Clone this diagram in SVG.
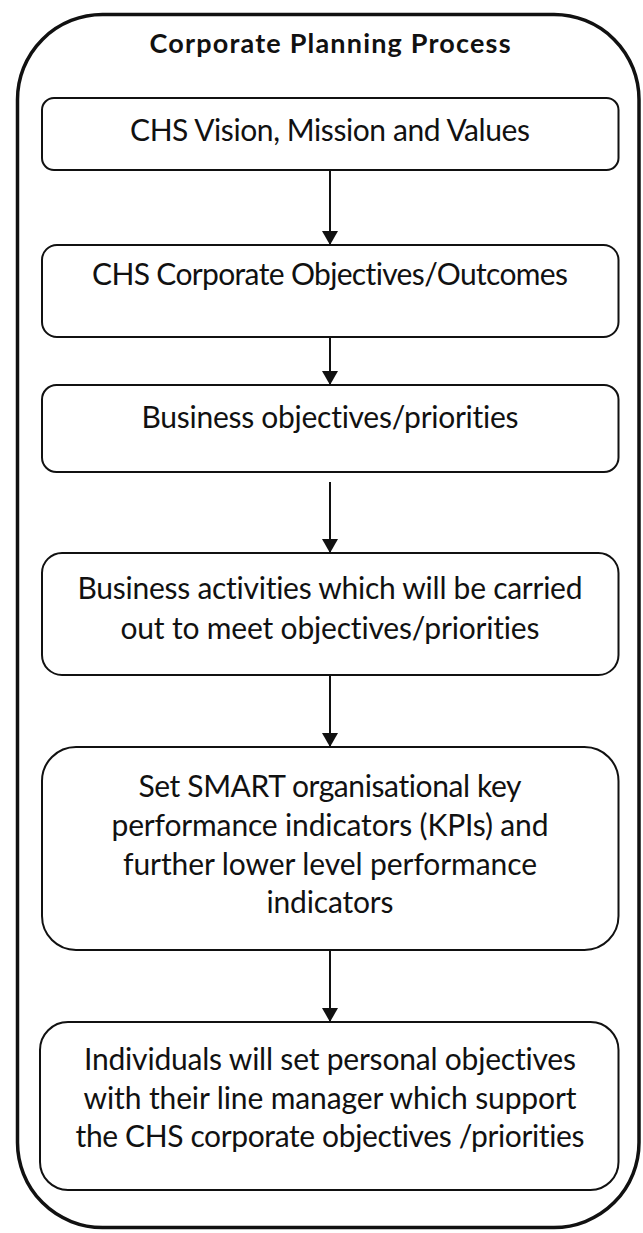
<svg xmlns="http://www.w3.org/2000/svg" width="643" height="1233" viewBox="0 0 643 1233">
  <style>
    .frame { fill: #ffffff; stroke: #111111; stroke-width: 3.5; }
    .box { fill: #ffffff; stroke: #111111; stroke-width: 2; }
    .title { font-family: Lato, "Open Sans", "Liberation Sans", sans-serif; font-weight: bold; font-size: 27px; fill: #111111; text-anchor: middle; font-variant-ligatures: none; }
    .label { font-family: Lato, "Open Sans", "Liberation Sans", sans-serif; font-size: 30px; fill: #111111; text-anchor: middle; font-variant-ligatures: none; }
    .link { stroke: #111111; stroke-width: 2; fill: none; marker-end: url(#arrow); }
  </style>
  <defs>
    <marker id="arrow" viewBox="0 0 14 16" refX="14" refY="8" markerWidth="14" markerHeight="16" markerUnits="userSpaceOnUse" orient="auto">
      <path d="M0,0 L14,8 L0,16 Z" fill="#111111"/>
    </marker>
  </defs>

  <rect fill="#ffffff" x="0" y="0" width="643" height="1233"/>

  <!-- outer process frame -->
  <g id="frame">
    <rect class="frame" x="17.5" y="14.5" width="621.5" height="1213" rx="85" ry="85"/>
    <text class="title" x="330" y="53" textLength="361">Corporate Planning Process</text>
  </g>

  <g id="vision">
    <rect class="box" x="42" y="98" width="576.5" height="72" rx="12" ry="12"/>
    <text class="label" x="330" y="141" textLength="400">CHS Vision, Mission and Values</text>
  </g>

  <g id="corporate-objectives">
    <rect class="box" x="42" y="245" width="576.5" height="92" rx="15" ry="15"/>
    <text class="label" x="330" y="285" textLength="476">CHS Corporate Objectives/Outcomes</text>
  </g>

  <g id="business-objectives">
    <rect class="box" x="42" y="385" width="576.5" height="87" rx="14.5" ry="14.5"/>
    <text class="label" x="330" y="428" textLength="377">Business objectives/priorities</text>
  </g>

  <g id="business-activities">
    <rect class="box" x="42" y="553" width="576.5" height="122" rx="20" ry="20"/>
    <text class="label" x="330" y="599" textLength="505">Business activities which will be carried</text>
    <text class="label" x="330" y="638.5" textLength="419">out to meet objectives/priorities</text>
  </g>

  <g id="kpis">
    <rect class="box" x="42" y="747" width="576.5" height="203" rx="34" ry="34"/>
    <text class="label" x="330" y="797" textLength="383">Set SMART organisational key</text>
    <text class="label" x="330" y="836" textLength="437">performance indicators (KPIs) and</text>
    <text class="label" x="330" y="875" textLength="414">further lower level performance</text>
    <text class="label" x="330" y="913" textLength="127">indicators</text>
  </g>

  <g id="personal-objectives">
    <rect class="box" x="40" y="1022" width="578.5" height="168" rx="28" ry="28"/>
    <text class="label" x="330" y="1070" textLength="492">Individuals will set personal objectives</text>
    <text class="label" x="330" y="1108.5" textLength="493">with their line manager which support</text>
    <text class="label" x="330" y="1147" textLength="509">the CHS corporate objectives /priorities</text>
  </g>

  <!-- downward flow between stages -->
  <g id="connectors">
    <line class="link" x1="330" y1="170" x2="330" y2="245"/>
    <line class="link" x1="330" y1="337" x2="330" y2="385"/>
    <line class="link" x1="330" y1="482" x2="330" y2="553"/>
    <line class="link" x1="330" y1="675" x2="330" y2="747"/>
    <line class="link" x1="330" y1="950" x2="330" y2="1022"/>
  </g>
</svg>
